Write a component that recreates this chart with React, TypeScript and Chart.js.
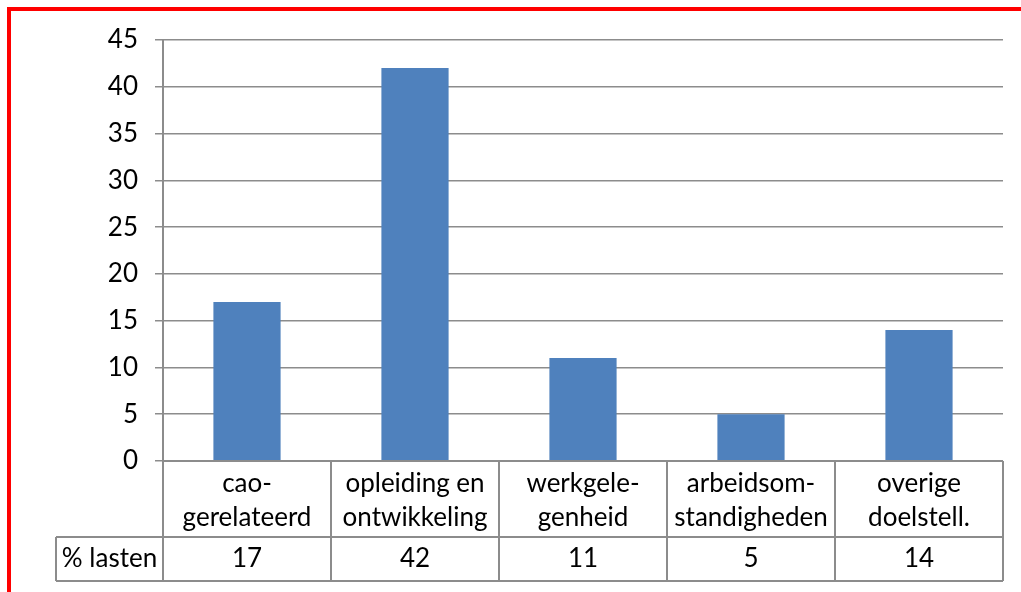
import React, { useEffect, useRef } from "react";
import { Chart, registerables } from "chart.js";

Chart.register(...registerables);

const categories: string[][] = [
  ["cao-", "gerelateerd"],
  ["opleiding en", "ontwikkeling"],
  ["werkgele-", "genheid"],
  ["arbeidsom-", "standigheden"],
  ["overige", "doelstell."],
];
const seriesLabel = "% lasten";
const values = [17, 42, 11, 5, 14];
const yMin = 0;
const yMax = 45;
const yStep = 5;

const FONT = "Lato, 'Open Sans', sans-serif";
const FONT_SIZE = 26;
const GRID = "#8c8c8c";
const BAR = "#4f81bd";

const tablePlugin = {
  id: "dataTable",
  afterDraw(chart: any) {
    const ctx = chart.ctx;
    const area = chart.chartArea;
    const x = chart.scales.x;
    const n = categories.length;
    const colW = (area.right - area.left) / n;
    const rowTop = area.bottom;
    const rowMid = area.bottom + 76;
    const rowBot = area.bottom + 120;
    const labelLeft = 56;

    ctx.save();
    ctx.strokeStyle = GRID;
    ctx.lineWidth = 2;
    ctx.beginPath();
    ctx.moveTo(area.left, rowTop);
    ctx.lineTo(area.right, rowTop);
    ctx.moveTo(labelLeft, rowMid);
    ctx.lineTo(area.right, rowMid);
    ctx.moveTo(labelLeft, rowBot);
    ctx.lineTo(area.right, rowBot);
    ctx.moveTo(labelLeft, rowMid);
    ctx.lineTo(labelLeft, rowBot);
    for (let i = 0; i <= n; i++) {
      const px = i < n ? x.getPixelForValue(i) - colW / 2 : x.getPixelForValue(n - 1) + colW / 2;
      ctx.moveTo(px, rowTop);
      ctx.lineTo(px, rowBot);
    }
    ctx.stroke();

    ctx.fillStyle = "#000";
    ctx.font = `${FONT_SIZE}px ${FONT}`;
    ctx.textAlign = "center";
    ctx.textBaseline = "middle";
    for (let i = 0; i < n; i++) {
      const cx = x.getPixelForValue(i);
      const lines = categories[i];
      const lh = 34;
      const cy = (rowTop + rowMid) / 2 + 2;
      lines.forEach((ln, j) => {
        ctx.fillText(ln, cx, cy + (j - (lines.length - 1) / 2) * lh);
      });
      ctx.fillText(String(values[i]), cx, (rowMid + rowBot) / 2);
    }
    ctx.fillText(seriesLabel, (labelLeft + area.left) / 2, (rowMid + rowBot) / 2);

    ctx.fillStyle = "#ff0000";
    ctx.fillRect(7, 7, chart.width - 7, 4);
    ctx.fillRect(7, 7, 4, chart.height - 7);
    ctx.restore();
  },
};

export default function App() {
  const ref = useRef<HTMLCanvasElement | null>(null);
  useEffect(() => {
    if (!ref.current) return;
    const chart = new Chart(ref.current, {
      type: "bar",
      data: {
        labels: categories.map((c) => c.join(" ")),
        datasets: [
          {
            label: seriesLabel,
            data: values,
            backgroundColor: BAR,
            barPercentage: 0.4,
            categoryPercentage: 1,
          },
        ],
      },
      options: {
        animation: false,
        responsive: false,
        devicePixelRatio: 1,
        layout: { padding: { left: 0, top: 40, right: 18, bottom: 131 } },
        plugins: { legend: { display: false }, tooltip: { enabled: false } },
        scales: {
          x: { display: false, offset: true },
          y: {
            min: yMin,
            max: yMax,
            ticks: {
              stepSize: yStep,
              color: "#000",
              padding: 17,
              font: { family: FONT, size: FONT_SIZE },
            },
            grid: { color: GRID, lineWidth: 1.5, tickLength: 8, drawTicks: true },
            border: { display: true, color: GRID, width: 2 },
            afterFit: (scale: any) => {
              scale.width = 163;
            },
          },
        },
      },
      plugins: [tablePlugin],
    });
    return () => chart.destroy();
  }, []);
  return (
    <div style={{ position: "fixed", left: 0, top: 0, width: 1021, height: 592, background: "#fff" }}>
      <canvas ref={ref} width={1021} height={592} />
    </div>
  );
}
